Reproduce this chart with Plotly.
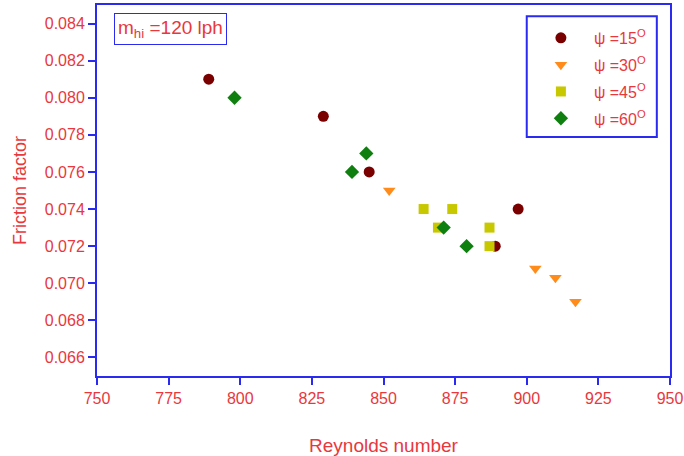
import plotly.graph_objects as go

# Data
psi15_x = [789, 829, 845, 897, 889]
psi15_y = [0.081, 0.079, 0.076, 0.074, 0.072]
psi30_x = [852, 903, 910, 917]
psi30_y = [0.075, 0.0708, 0.0703, 0.069]
psi45_x = [864, 874, 869, 887, 887]
psi45_y = [0.074, 0.074, 0.073, 0.073, 0.072]
psi60_x = [798, 844, 839, 871, 879]
psi60_y = [0.080, 0.077, 0.076, 0.073, 0.072]
labels = ["ψ =15<sup>O</sup>", "ψ =30<sup>O</sup>", "ψ =45<sup>O</sup>", "ψ =60<sup>O</sup>"]

RED = "#e8383d"
BLUE = "#2b2bf0"
FONT = "Liberation Sans, Arial, sans-serif"

fig = go.Figure()
series = [
    (psi15_x, psi15_y, "circle", "#7a0000", 11),
    (psi30_x, psi30_y, "triangle-down", "#ff8c1a", 11),
    (psi45_x, psi45_y, "square", "#c8c800", 10),
    (psi60_x, psi60_y, "diamond", "#0f7f0f", 11),
]
for i, ((xs, ys, sym, col, sz), lab) in enumerate(zip(series, labels)):
    fig.add_trace(go.Scatter(x=xs, y=ys, mode="markers", name=lab, legendgroup=f"g{i}",
                             marker=dict(symbol=sym, color=col, size=sz, line=dict(width=0))))

axis_common = dict(showline=True, linecolor=BLUE, linewidth=2, mirror=True,
                   ticks="outside", tickcolor=BLUE, ticklen=7, tickwidth=2,
                   showgrid=False, zeroline=False, automargin=False,
                   tickfont=dict(color=RED, size=16, family=FONT))

fig.update_layout(
    width=684, height=456,
    margin=dict(l=97, r=14, t=5, b=80),
    plot_bgcolor="white", paper_bgcolor="white",
    showlegend=True,
    legend=dict(x=0.752, y=0.957, xanchor="left", yanchor="top",
                font=dict(color=RED, size=16, family=FONT), itemwidth=56,
                bgcolor="rgba(0,0,0,0)", borderwidth=0, tracegroupgap=3),
    xaxis=dict(range=[750, 950], dtick=25, tick0=750,
               title=dict(text="Reynolds number", standoff=34,
                          font=dict(color=RED, size=19, family=FONT)),
               **axis_common),
    yaxis=dict(range=[0.065, 0.085], dtick=0.002, tick0=0.066, tickformat=".3f",
               title=dict(text="Friction factor", standoff=13,
                          font=dict(color=RED, size=18, family=FONT)),
               **axis_common),
    shapes=[dict(type="rect", xref="paper", yref="paper",
                 x0=0.750, x1=0.977, y0=0.644, y1=0.970,
                 line=dict(color=BLUE, width=2))],
    annotations=[dict(text="m<sub>hi</sub> =120 lph", xref="paper", yref="paper",
                      x=0.128, y=0.935, xanchor="center", yanchor="middle", showarrow=False,
                      font=dict(color=RED, size=19, family=FONT),
                      bordercolor=BLUE, borderwidth=1, borderpad=3)],
)

fig.write_html("out.html", config={"displayModeBar": False},
               post_script="document.body.style.margin='0';")
